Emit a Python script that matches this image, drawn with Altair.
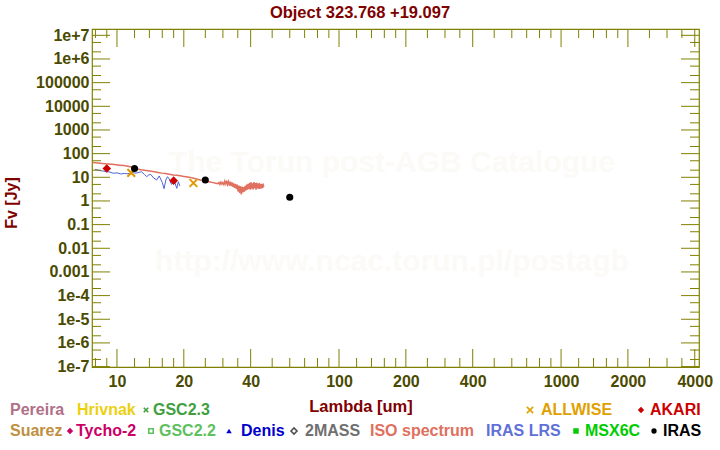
import math
import altair as alt
import pandas as pd

# ---------------- data ----------------
iso_lam = [7.77, 8.0, 8.4, 8.8, 9.1, 9.5, 9.9, 10.3, 10.75, 11.2, 11.6, 12.0, 12.4, 12.8,
           13.3, 13.8, 14.3, 14.8, 15.3, 15.9, 16.5, 17.2, 17.9, 18.6, 19.3, 20.0, 20.8,
           21.7, 22.6, 23.5, 24.4, 25.2, 26.0, 26.8, 27.6, 28.2,
           28.5, 28.8, 29.1, 29.4, 29.7, 30.0, 30.3, 30.6, 30.9, 31.2, 31.5, 31.8, 32.1,
           32.4, 32.7, 33.0, 33.3, 33.6, 33.9, 34.2, 34.5, 34.8, 35.1, 35.4, 35.7, 36.0,
           36.3, 36.6, 36.9, 37.2, 37.5, 37.8, 38.1, 38.4, 38.7, 39.0, 39.3, 39.6, 39.9,
           40.2, 40.5, 40.8, 41.1, 41.4, 41.7, 42.0, 42.3, 42.6, 42.9, 43.2, 43.5, 43.8,
           44.1, 44.4, 44.7, 45.0, 45.3, 45.6, 45.9]
iso_flux = [42, 41, 39, 37.5, 36.6, 35.2, 33.8, 32.5, 31.2, 29.5, 27.5, 25, 22.5, 21,
            20, 19, 18, 17, 16, 15, 14.3, 13.5, 12.6, 12.1, 11.5, 10.9, 10.2,
            9.5, 8.6, 7.9, 7.2, 6.9, 6.5, 6.1, 5.7, 5.5,
            5.4, 6.0, 5.0, 6.3, 5.1, 6.0, 4.9, 6.9, 5.2, 7.2, 4.9, 6.6, 4.5,
            6.6, 4.2, 6.1, 3.9, 5.5, 3.6, 5.2, 3.2, 4.9, 2.5, 4.5, 2.2, 4.2,
            1.9, 4.0, 2.3, 3.8, 2.5, 4.4, 2.8, 4.9, 3.0, 5.3, 3.2, 5.8, 3.0,
            6.1, 3.3, 5.5, 3.1, 6.3, 3.5, 5.7, 3.0, 5.9, 3.4, 5.4, 3.2, 5.7,
            3.3, 5.1, 3.4, 5.3, 3.5, 4.7, 4.0]

lrs_lam = [7.96, 8.3, 8.6, 8.99, 9.3, 9.62, 10.0, 10.4, 10.8, 11.1, 11.44, 11.8, 12.2,
           12.6, 12.9, 13.3, 13.6, 13.9, 14.2, 14.6, 15.1, 15.5, 16.0, 16.3, 16.6, 16.9,
           17.2, 17.6, 18.1, 18.6, 18.9, 19.2]
lrs_flux = [21.8, 19.5, 18.6, 17.3, 16.6, 14.8, 15.4, 13.8, 14.6, 14.0, 14.8, 15.6, 15.0,
            16.3, 17.0, 13.2, 10.6, 12.5, 13.2, 9.5, 7.7, 11.4, 6.0, 3.3, 7.7, 10.6,
            8.5, 5.0, 7.0, 3.4, 6.5, 4.3]

akari_lam = [9.0, 18.0]
akari_flux = [23.6, 7.2]
allwise_lam = [11.6, 22.1]
allwise_flux = [15.4, 5.75]
iras_lam = [12.0, 25.0, 60.0]
iras_flux = [23.6, 7.7, 1.44]

x_major = [10, 20, 40, 100, 200, 400, 1000, 2000, 4000]
x_minor = [8, 9, 12, 14, 16, 18, 25, 30, 35, 50, 60, 70, 80, 90,
           120, 140, 160, 180, 250, 300, 350, 500, 600, 700, 800, 900,
           1200, 1400, 1600, 1800, 2500, 3000, 3500]
y_major = [1e-7, 1e-6, 1e-5, 1e-4, 1e-3, 1e-2, 1e-1, 1, 10, 100, 1e3, 1e4, 1e5, 1e6, 1e7]
y_labels = ["1e-7", "1e-6", "1e-5", "1e-4", "0.001", "0.01", "0.1", "1", "10", "100",
            "1000", "10000", "100000", "1e+6", "1e+7"]
y_minor = [2e-7, 5e-7, 2e-6, 5e-6, 2e-5, 5e-5, 2e-4, 5e-4, 2e-3, 5e-3, 2e-2, 5e-2,
           0.2, 0.5, 2, 5, 20, 50, 200, 500, 2e3, 5e3, 2e4, 5e4, 2e5, 5e5, 2e6, 5e6]

legend_labels = ["Pereira", "Hrivnak", "GSC2.3", "ALLWISE", "AKARI",
                 "Suarez", "Tycho-2", "GSC2.2", "Denis", "2MASS", "ISO spectrum",
                 "IRAS LRS", "MSX6C", "IRAS"]
legend_colors = ["#b07088", "#ecd010", "#40a040", "#e0a000", "#cc0000",
                 "#c09040", "#cc0066", "#60c060", "#0000cc", "#707070", "#e07060",
                 "#6070d8", "#00cc00", "#000000"]
legend_px = [10, 77, 153, 541, 650, 10, 76, 159, 241, 305, 370, 486, 585, 663]
legend_row = [0, 0, 0, 0, 0, 1, 1, 1, 1, 1, 1, 1, 1, 1]

sym_px = [146, 530, 641, 70, 151, 229, 294, 576, 654]
sym_row = [0, 0, 0, 1, 1, 1, 1, 1, 1]
sym_shape = ["M-1,-1L1,1M-1,1L1,-1", "M-1,-1L1,1M-1,1L1,-1", "diamond", "diamond",
             "square", "triangle-up", "diamond", "square", "circle"]
sym_filled = [False, False, True, True, False, True, False, True, True]
sym_color = ["#40a040", "#e0a000", "#cc0000", "#cc0066", "#60c060", "#0000cc",
             "#505050", "#00cc00", "#000000"]
sym_size = [20, 40, 40, 40, 20, 30, 36, 30, 28]

# ---------------- layout constants ----------------
W, H = 607, 338
LEFT, TOP = 92, 29
FONT = "Liberation Sans"
OLIVE = "#808000"
LABEL = "#4a4a00"
DARKRED = "#800000"
ROW_Y = [410, 431]
XMIN, XMAX = 7.72, 4180
YMIN, YMAX = 9.6e-8, 1.85e7
LONG, SHORT = 18, 9   # tick lengths in px
TW = 1.0              # tick width in px

xs = alt.Scale(type="log", domain=[XMIN, XMAX], nice=False)
ys = alt.Scale(type="log", domain=[YMIN, YMAX], nice=False)

label_expr = "[" + ",".join("'%s'" % s for s in y_labels) + "][round(log(datum.value)/LN10)+7]"

xaxis = alt.Axis(values=x_major, format="d", ticks=False, domain=False, grid=False,
                 labelFont=FONT, labelFontSize=16, labelFontWeight="bold", labelColor=LABEL,
                 labelPadding=14, labelBaseline="middle", labelFlush=False, title=None)
yaxis = alt.Axis(values=y_major, labelExpr=label_expr, ticks=False, domain=False, grid=False,
                 labelFont=FONT, labelFontSize=16, labelFontWeight="bold", labelColor=LABEL,
                 labelPadding=3, labelFlush=False, title=None)


def X():
    return alt.X("lam:Q", scale=xs, axis=xaxis)


def Y():
    return alt.Y("f:Q", scale=ys, axis=yaxis)


def PX(field):
    return alt.X(field + ":Q", scale=None, axis=None)


def PY(field):
    return alt.Y(field + ":Q", scale=None, axis=None)


iso_df = pd.DataFrame({"lam": iso_lam, "f": iso_flux})
lrs_df = pd.DataFrame({"lam": lrs_lam, "f": lrs_flux})
akari_df = pd.DataFrame({"lam": akari_lam, "f": akari_flux})
allwise_df = pd.DataFrame({"lam": allwise_lam, "f": allwise_flux})
iras_df = pd.DataFrame({"lam": iras_lam, "f": iras_flux})


# ---- inward frame ticks (axis decoration) on the same log mapping as the axes ----
def xpix(v):
    return W * (math.log10(v) - math.log10(XMIN)) / (math.log10(XMAX) - math.log10(XMIN))


def ypix(v):
    return H * (math.log10(YMAX) - math.log10(v)) / (math.log10(YMAX) - math.log10(YMIN))


rect_rows = []   # x0, x1, y0, y1 of thin filled rectangles
for vals, ln in ((x_major, LONG), (x_minor, SHORT)):
    for v in vals:
        p = xpix(v)
        rect_rows.append((p - TW / 2, p + TW / 2, H - ln, H))
        rect_rows.append((p - TW / 2, p + TW / 2, 0, ln))
for vals, ln in ((y_major, LONG), (y_minor, SHORT)):
    for v in vals:
        p = ypix(v)
        rect_rows.append((0, ln, p - TW / 2, p + TW / 2))
        rect_rows.append((W - ln, W, p - TW / 2, p + TW / 2))
rect_df = pd.DataFrame(rect_rows, columns=["x0", "x1", "y0", "y1"])

# watermark
wm_df = pd.DataFrame({"t": ["The Torun post-AGB Catalogue", "http://www.ncac.torun.pl/postagb"],
                      "px": [392 - LEFT, 392 - LEFT], "py": [163 - TOP, 262 - TOP]})
watermark = alt.Chart(wm_df).mark_text(font=FONT, fontSize=30, fontWeight="bold",
                                       color="#fcfaf7", align="center", baseline="middle").encode(
    x=PX("px"), y=PY("py"), text="t:N")

iso = alt.Chart(iso_df).mark_line(color="#e07060", strokeWidth=1.5, clip=True).encode(
    x=X(), y=Y(), order="lam:Q")
lrs = alt.Chart(lrs_df).mark_line(color="#5064d4", strokeWidth=1, clip=True).encode(
    x=X(), y=Y(), order="lam:Q")

akari = alt.Chart(akari_df).mark_point(shape="diamond", filled=True, color="#cc0000",
                                        size=75, opacity=1).encode(x=X(), y=Y())
allwise = alt.Chart(allwise_df).mark_point(shape="M-1,-1L1,1M-1,1L1,-1", filled=False,
                                            color="#e09900", size=60, strokeWidth=2,
                                            opacity=1).encode(x=X(), y=Y())
iras = alt.Chart(iras_df).mark_point(shape="circle", filled=True, color="#000000",
                                      size=50, opacity=1).encode(x=X(), y=Y())

# legend
leg_df = pd.DataFrame({"t": legend_labels, "c": legend_colors,
                       "px": [p - LEFT for p in legend_px],
                       "py": [ROW_Y[r] - TOP for r in legend_row]})
legend_text = alt.Chart(leg_df).mark_text(font=FONT, fontSize=16, fontWeight="bold",
                                          align="left", baseline="middle").encode(
    x=PX("px"), y=PY("py"), text="t:N", color=alt.Color("c:N", scale=None, legend=None))

sym_df = pd.DataFrame({"px": [p - LEFT for p in sym_px],
                       "py": [ROW_Y[r] - TOP for r in sym_row],
                       "s": sym_shape, "c": sym_color, "z": sym_size, "fl": sym_filled})
sym_enc = dict(x=PX("px"), y=PY("py"),
               shape=alt.Shape("s:N", scale=None, legend=None),
               color=alt.Color("c:N", scale=None, legend=None),
               size=alt.Size("z:Q", scale=None, legend=None))
sym_filled_layer = alt.Chart(sym_df[sym_df.fl]).mark_point(filled=True, opacity=1).encode(**sym_enc)
sym_open_layer = alt.Chart(sym_df[~sym_df.fl]).mark_point(filled=False, opacity=1,
                                                          strokeWidth=1.6).encode(**sym_enc)

ticks = alt.Chart(rect_df).mark_rect(color=OLIVE, opacity=1, strokeWidth=0).encode(
    x=PX("x0"), x2="x1:Q", y=PY("y0"), y2="y1:Q")

# titles
title_df = pd.DataFrame({"t": ["Object 323.768 +19.097", "Lambda [um]"],
                         "px": [360 - LEFT, 361 - LEFT], "py": [13 - TOP, 407 - TOP]})
titles = alt.Chart(title_df).mark_text(font=FONT, fontSize=16.5, fontWeight="bold",
                                       color=DARKRED, align="center", baseline="middle").encode(
    x=PX("px"), y=PY("py"), text="t:N")
ytitle_df = pd.DataFrame({"t": ["Fv [Jy]"], "px": [12 - LEFT], "py": [203 - TOP]})
ytitle = alt.Chart(ytitle_df).mark_text(font=FONT, fontSize=16, fontWeight="bold", angle=270,
                                        color=DARKRED, align="center", baseline="middle").encode(
    x=PX("px"), y=PY("py"), text="t:N")

chart = alt.layer(watermark, iso, lrs, akari, allwise, iras,
                  legend_text, sym_filled_layer, sym_open_layer, ticks, titles, ytitle).properties(
    width=W, height=H,
    autosize=alt.AutoSizeParams(type="none"),
    padding={"left": LEFT, "top": TOP, "right": 720 - LEFT - W, "bottom": 450 - TOP - H},
    background="white",
).configure_view(stroke=OLIVE, strokeWidth=1.2)

chart.save("out.html", embed_options={"renderer": "svg", "actions": False})
